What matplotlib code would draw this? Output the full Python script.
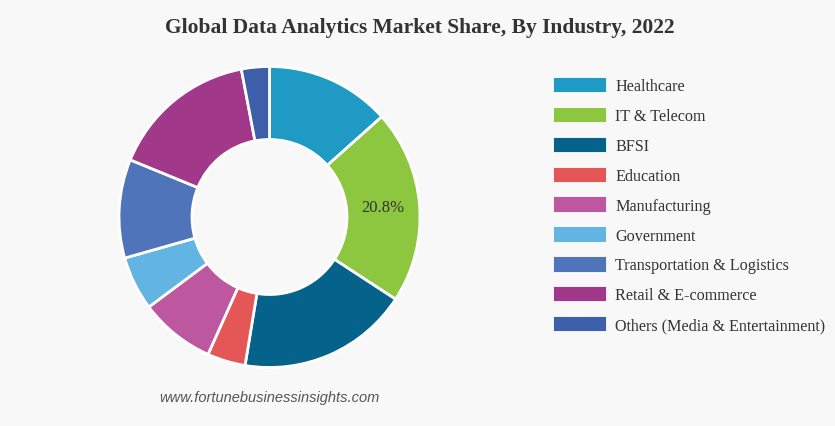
import matplotlib.pyplot as plt
from matplotlib.patches import Patch

# data
industries = ["Healthcare", "IT & Telecom", "BFSI", "Education", "Manufacturing",
              "Government", "Transportation & Logistics", "Retail & E-commerce",
              "Others (Media & Entertainment)"]
shares = [13.4, 20.8, 18.4, 4.1, 8.1, 5.8, 10.6, 15.8, 3.0]
colors = ["#1f9ac4", "#8dc63f", "#05628a", "#e55656", "#bd57a0",
          "#62b4e3", "#4f74b9", "#a13889", "#3d5ea9"]

W, H = 835, 427
BG = "#f8f8f8"

fig = plt.figure(figsize=(W / 100, H / 100), dpi=100, facecolor=BG)

# donut: centre ~(269.5, 218) px, radius ~150.5 px
cx, cy, r = 269.5, 218, 150.5
ax = fig.add_axes([(cx - r) / W, (H - cy - r) / H, 2 * r / W, 2 * r / H])
ax.set_facecolor(BG)

wedges, _ = ax.pie(shares, colors=colors, startangle=90, counterclock=False,
                   radius=1, wedgeprops=dict(width=0.485, edgecolor="white", linewidth=2))
ax.set_xlim(-1, 1)
ax.set_ylim(-1, 1)
ax.set_aspect("equal")
ax.axis("off")

# only the IT & Telecom slice carries a label
ax.text(0.755, 0.065, f"{shares[1]}%", ha="center", va="center",
        fontsize=12, family="Liberation Serif", color="#333333")

fig.text(420 / W, 1 - 28 / H, "Global Data Analytics Market Share, By Industry, 2022",
         ha="center", va="center", fontsize=15.5, fontweight="bold",
         family="Liberation Serif", color="#333333")

fig.text(269 / W, 1 - 398 / H, "www.fortunebusinessinsights.com", ha="center",
         va="center", fontsize=10.5, style="italic", family="Liberation Sans",
         color="#555555")

fs = 11.6
px = fs * 100 / 72  # font size in pixels
handles = [Patch(facecolor=c, edgecolor="white", linewidth=0.6) for c in colors]
leg = fig.legend(handles, industries, loc="upper left",
                 bbox_to_anchor=(553 / W, 1 - 78 / H), frameon=False,
                 prop={"family": "Liberation Serif", "size": fs},
                 handlelength=53 / px, handleheight=1.1, handletextpad=9 / px,
                 labelspacing=0.785, borderpad=0, borderaxespad=0)
for t in leg.get_texts():
    t.set_color("#333333")

fig.savefig("out.png", dpi=100, facecolor=BG)
